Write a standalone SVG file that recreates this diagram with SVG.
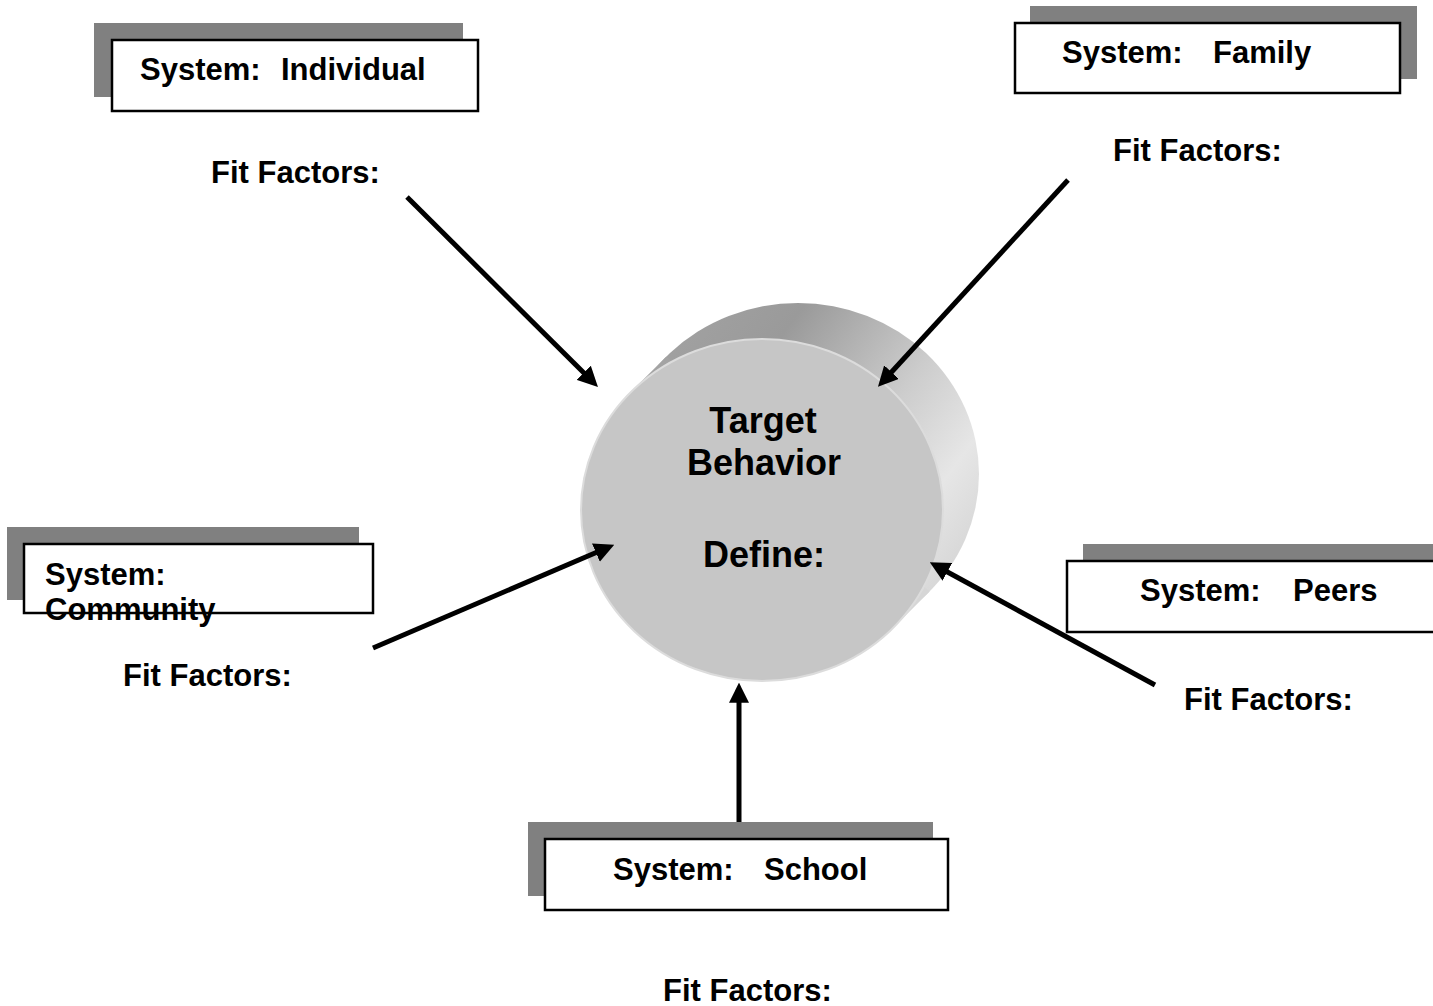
<svg xmlns="http://www.w3.org/2000/svg" width="1433" height="1006" viewBox="0 0 1433 1006">
<defs>
<style>
.t{font-family:"Liberation Sans",Arial,sans-serif;font-weight:bold;font-size:31px;fill:#000}
.c{font-family:"Liberation Sans",Arial,sans-serif;font-weight:bold;font-size:36px;fill:#000;text-anchor:middle}
.sh{fill:#808080}
.bx{fill:#fff;stroke:#000;stroke-width:2.5}
.ar{stroke:#000;stroke-width:5;fill:none;marker-end:url(#ah)}
</style>
<marker id="ah" markerUnits="userSpaceOnUse" markerWidth="20" markerHeight="20" refX="6" refY="9" orient="auto" viewBox="0 0 18 18">
<path d="M0,0 L18,9 L0,18 z" fill="#000"/>
</marker>
<linearGradient id="side" x1="0" y1="0" x2="1" y2="0.7">
<stop offset="0" stop-color="#a6a6a6"/>
<stop offset="0.35" stop-color="#9a9a9a"/>
<stop offset="0.65" stop-color="#cccccc"/>
<stop offset="0.85" stop-color="#e6e6e6"/>
<stop offset="1" stop-color="#d6d6d6"/>
</linearGradient>
</defs>
<rect width="1433" height="1006" fill="#fff"/>
<g id="target">
<ellipse cx="798" cy="474" rx="181" ry="171" fill="url(#side)"/>
<polygon points="630.4,392.5 666.4,356.5 929.6,591.5 893.6,627.5" fill="url(#side)"/>
<ellipse cx="762" cy="510" rx="181" ry="171" fill="#c6c6c6" stroke="#dcdcdc" stroke-width="2"/>
<text class="c" x="763" y="433">Target</text>
<text class="c" x="764" y="475">Behavior</text>
<text class="c" x="764" y="567">Define:</text>
</g>
<g id="connectors">
<line class="ar" x1="407" y1="197" x2="588.5" y2="377.5"/>
<line class="ar" x1="1068" y1="180" x2="887" y2="377"/>
<line class="ar" x1="373" y1="648" x2="602" y2="550"/>
<line class="ar" x1="1155" y1="685" x2="941.5" y2="568.7"/>
<line class="ar" x1="739" y1="822" x2="739" y2="696"/>
</g>
<g id="individual">
<rect class="sh" x="94" y="23" width="369" height="74"/>
<rect class="bx" x="112" y="40" width="366" height="71"/>
<text class="t" x="140" y="80">System:<tspan x="281">Individual</tspan></text>
<text class="t" x="211" y="183">Fit Factors:</text>
</g>
<g id="family">
<rect class="sh" x="1030" y="6" width="387" height="73"/>
<rect class="bx" x="1015" y="23" width="385" height="70"/>
<text class="t" x="1062" y="63">System:<tspan x="1213">Family</tspan></text>
<text class="t" x="1113" y="161">Fit Factors:</text>
</g>
<g id="community">
<rect class="sh" x="7" y="527" width="352" height="73"/>
<rect class="bx" x="24" y="544" width="349" height="69"/>
<text class="t" x="45" y="585">System:</text>
<text class="t" x="45" y="620">Community</text>
<text class="t" x="123" y="686">Fit Factors:</text>
</g>
<g id="peers">
<rect class="sh" x="1083" y="544" width="360" height="60"/>
<rect class="bx" x="1067" y="561" width="380" height="71"/>
<text class="t" x="1140" y="601">System:<tspan x="1293">Peers</tspan></text>
<text class="t" x="1184" y="710">Fit Factors:</text>
</g>
<g id="school">
<rect class="sh" x="528" y="822" width="405" height="74"/>
<rect class="bx" x="545" y="839" width="403" height="71"/>
<text class="t" x="613" y="880">System:<tspan x="764">School</tspan></text>
<text class="t" x="663" y="1001">Fit Factors:</text>
</g>
</svg>
